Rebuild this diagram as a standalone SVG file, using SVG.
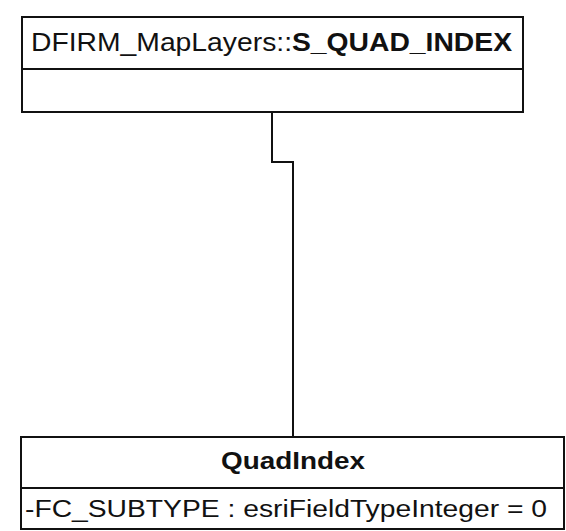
<svg xmlns="http://www.w3.org/2000/svg" width="566" height="531" viewBox="0 0 566 531">
<style>
.box{fill:#fff;stroke:#111;stroke-width:2}
.div{stroke:#111;stroke-width:2}
.t{font-family:"Liberation Sans",Arial,sans-serif;fill:#111}
.b{font-weight:bold}
.conn{fill:none;stroke:#111;stroke-width:2}
</style>
<rect width="566" height="531" fill="#fff"/>
<g id="connectors">
<path class="conn" d="M272,112 V162 H293 V437"/>
</g>
<g id="S_QUAD_INDEX">
<rect class="box" x="22" y="17" width="501" height="95"/>
<line class="div" x1="22" y1="69" x2="523" y2="69"/>
<text class="t" x="31" y="51" font-size="26" textLength="261" lengthAdjust="spacingAndGlyphs">DFIRM_MapLayers::</text>
<text class="t b" x="292" y="51" font-size="26" textLength="220" lengthAdjust="spacingAndGlyphs">S_QUAD_INDEX</text>
</g>
<g id="QuadIndex">
<rect class="box" x="21" y="437" width="543" height="92"/>
<line class="div" x1="21" y1="488" x2="564" y2="488"/>
<text class="t b" x="221" y="469" font-size="24" textLength="144" lengthAdjust="spacingAndGlyphs">QuadIndex</text>
<text class="t" x="25" y="517" font-size="23" textLength="522" lengthAdjust="spacingAndGlyphs">-FC_SUBTYPE : esriFieldTypeInteger = 0</text>
</g>
</svg>
